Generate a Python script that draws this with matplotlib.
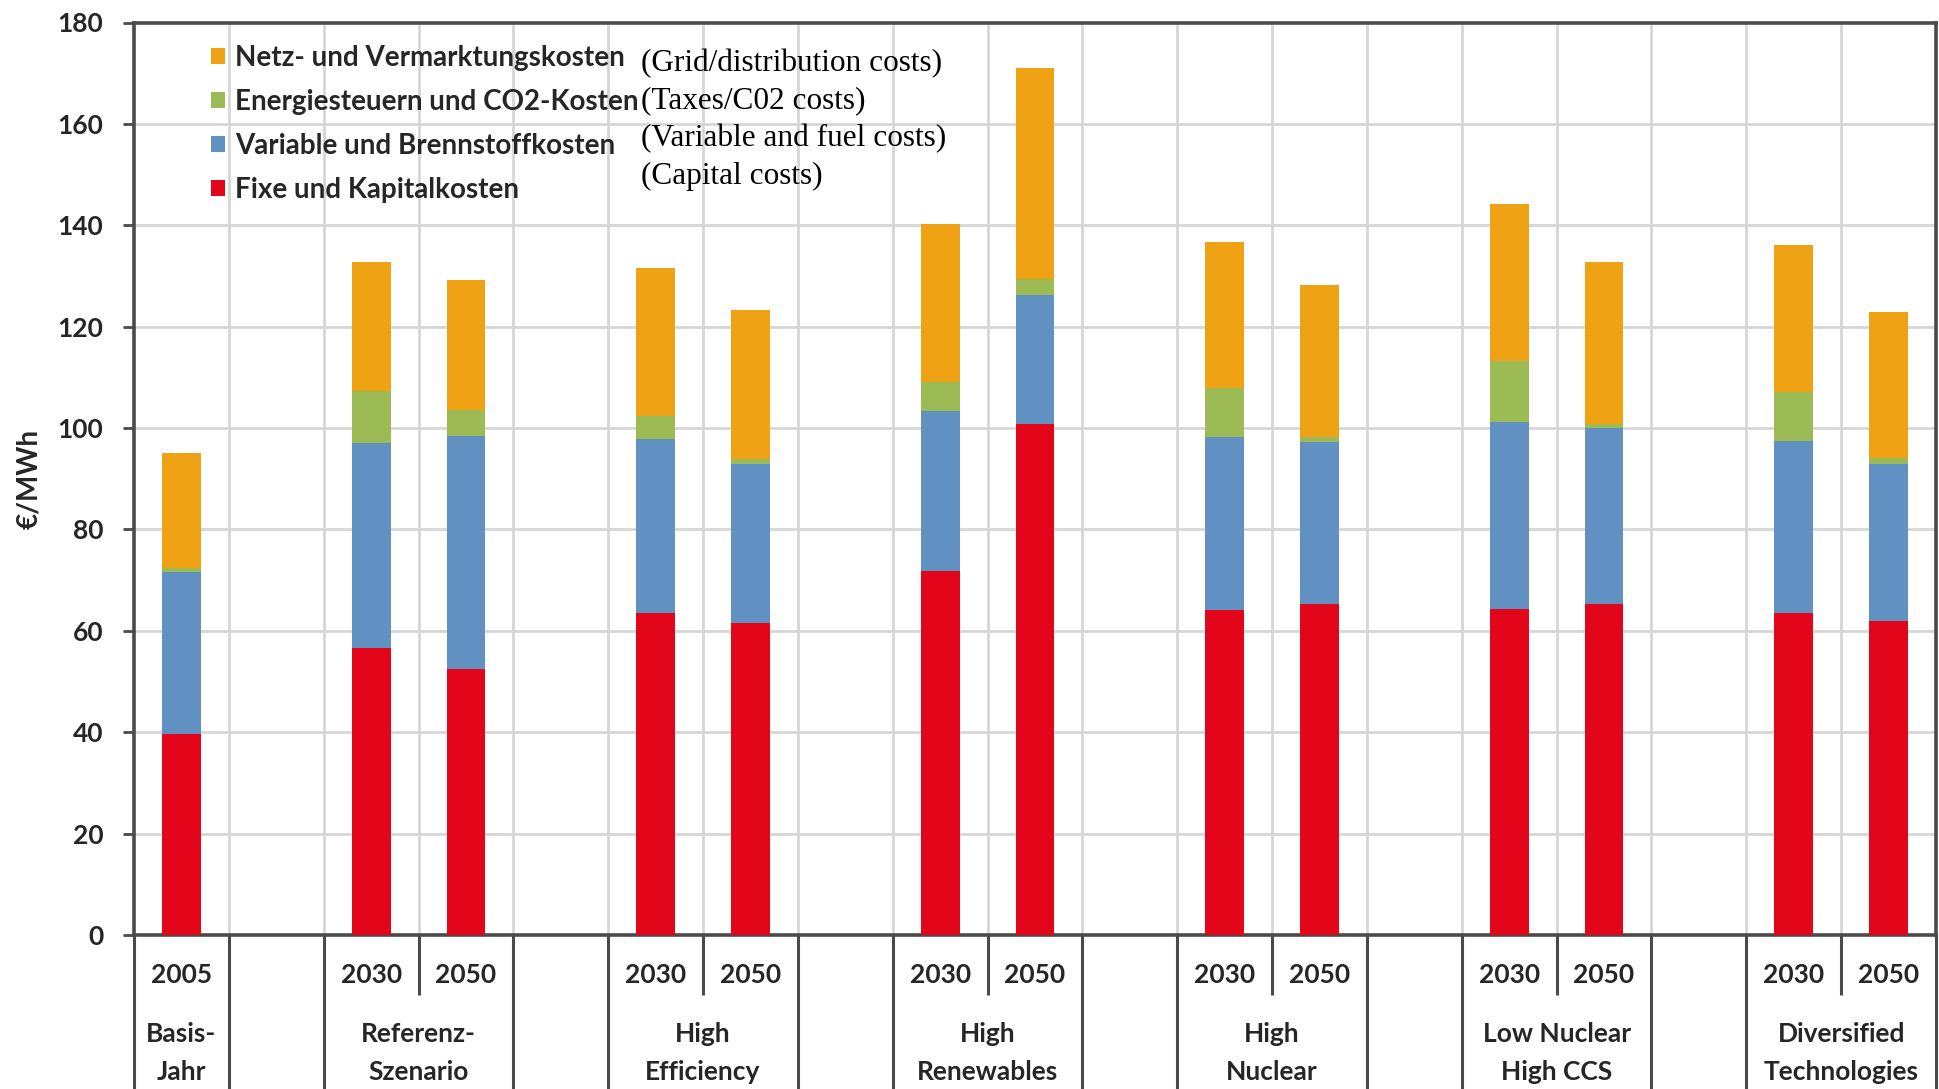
import matplotlib
matplotlib.use("Agg")
import matplotlib.pyplot as plt
from matplotlib.patches import Patch
from matplotlib.transforms import blended_transform_factory

# Scenario groups and their years
groups = ["Basis-\nJahr", "Referenz-\nSzenario", "High\nEfficiency", "High\nRenewables",
          "High\nNuclear", "Low Nuclear\nHigh CCS", "Diversified\nTechnologies"]
group_years = [["2005"], ["2030", "2050"], ["2030", "2050"], ["2030", "2050"],
               ["2030", "2050"], ["2030", "2050"], ["2030", "2050"]]

# Cost components in €/MWh, one value per bar (in order of the groups above)
fixe_kapital = [39.6, 56.6, 52.5, 63.5, 61.6, 71.8, 100.8, 64.1, 65.3, 64.4, 65.3, 63.5, 61.9]
variabel_brennstoff = [32.1, 40.4, 45.9, 34.4, 31.3, 31.6, 25.4, 34.2, 31.9, 36.7, 34.7, 34.0, 31.1]
steuern_co2 = [0.7, 10.3, 5.1, 4.5, 1.0, 5.6, 3.2, 9.6, 1.1, 12.2, 0.8, 9.6, 1.0]
netz_vermarktung = [22.7, 25.5, 25.7, 29.2, 29.4, 31.3, 41.6, 28.8, 29.9, 30.8, 32.0, 29.1, 28.9]

series_labels = ["Fixe und Kapitalkosten", "Variable und Brennstoffkosten",
                 "Energiesteuern und CO2-Kosten", "Netz- und Vermarktungskosten"]
series_notes = ["(Capital costs)", "(Variable and fuel costs)",
                "(Taxes/C02 costs)", "(Grid/distribution costs)"]
series_colors = ["#E3061B", "#6091C2", "#9DBB55", "#EFA314"]

y_ticks = [0, 20, 40, 60, 80, 100, 120, 140, 160, 180]

FONT = "Lato"
TXT = "#262626"

# Slot layout: each group occupies one slot per year, groups separated by one empty slot
positions = []
group_spans = []
slot = 0
for yrs in group_years:
    start = slot
    for _ in yrs:
        positions.append(slot)
        slot += 1
    group_spans.append((start, slot - 1))
    slot += 1
n_slots = slot - 1

fig = plt.figure(figsize=(19.39, 10.89), dpi=100)
ax = fig.add_axes([134 / 1939, 1 - 935 / 1089, (1936 - 134) / 1939, (935 - 22.5) / 1089])

values = [fixe_kapital, variabel_brennstoff, steuern_co2, netz_vermarktung]
bottom = [0.0] * len(positions)
for vals, col, lab in zip(values, series_colors, series_labels):
    ax.bar(positions, vals, width=0.41, bottom=bottom, color=col, label=lab,
           edgecolor="none", zorder=3)
    bottom = [b + v for b, v in zip(bottom, vals)]

ax.set_xlim(-0.5, n_slots - 0.5)
ax.set_ylim(0, 180)
ax.set_yticks(y_ticks)
ax.set_xticks([])

# grid: horizontal at every tick, vertical at every slot boundary
for yv in y_ticks[1:-1]:
    ax.axhline(yv, color="#D6D6D6", lw=2, zorder=1)
for k in range(1, n_slots):
    ax.axvline(k - 0.5, color="#D6D6D6", lw=2, zorder=1)

for side in ["left", "bottom", "top", "right"]:
    ax.spines[side].set_color("#4a4a4a")
    ax.spines[side].set_linewidth(2.6)

ax.tick_params(axis="y", direction="out", length=8, width=2, color="#4a4a4a",
               pad=14, labelsize=19, labelcolor=TXT)
for t in ax.get_yticklabels():
    t.set_fontfamily(FONT)
    t.set_fontweight("bold")

ax.set_ylabel("€/MWh", fontsize=20, fontweight="bold", fontfamily=FONT, color=TXT)
ax.yaxis.set_label_coords(-0.051, 0.5)

# category table beneath the axis
tr = blended_transform_factory(ax.transData, ax.transAxes)
px = 1.0 / (935 - 22.5)
long_end = -(1089 - 935) * px
short_end = -(995 - 935) * px

boundaries_long = {-0.5, n_slots - 0.5}
boundaries_short = set()
for (s, e) in group_spans:
    boundaries_long.add(s - 0.5)
    boundaries_long.add(e + 0.5)
    for k in range(s, e):
        boundaries_short.add(k + 0.5)
for b in boundaries_long:
    ax.plot([b, b], [0, long_end], transform=tr, color="#4a4a4a", lw=2.2,
            clip_on=False, solid_capstyle="butt")
for b in boundaries_short:
    ax.plot([b, b], [0, short_end], transform=tr, color="#4a4a4a", lw=2.2,
            clip_on=False, solid_capstyle="butt")

i = 0
for gname, yrs, (s, e) in zip(groups, group_years, group_spans):
    for yr in yrs:
        ax.text(positions[i], -(975 - 935) * px, yr, transform=tr, ha="center", va="center",
                fontsize=19, fontweight="bold", fontfamily=FONT, color=TXT)
        i += 1
    l1, l2 = gname.split("\n")
    xc = (s + e) / 2
    ax.text(xc, -(1034 - 935) * px, l1, transform=tr, ha="center", va="center",
            fontsize=19, fontweight="bold", fontfamily=FONT, color=TXT)
    ax.text(xc, -(1072 - 935) * px, l2, transform=tr, ha="center", va="center",
            fontsize=19, fontweight="bold", fontfamily=FONT, color=TXT)

# legend, stacked top component first
handles = [Patch(facecolor=c, edgecolor="none") for c in series_colors][::-1]
leg = ax.legend(handles, series_labels[::-1], loc="upper left",
                bbox_to_anchor=(211 / 1939, 1 - 45 / 1089), bbox_transform=fig.transFigure,
                frameon=False, handlelength=0.5, handleheight=0.5, handletextpad=0.36,
                labelspacing=0.65, borderaxespad=0, borderpad=0,
                prop={"family": FONT, "weight": "bold", "size": 20})
for t in leg.get_texts():
    t.set_color(TXT)

# English notes next to the legend entries
note_y = [176, 139, 101, 64]
for note, yp in zip(series_notes, note_y):
    fig.text(641 / 1939, 1 - yp / 1089, note, ha="left", va="center",
             fontsize=22.5, fontfamily="Liberation Serif", color="black")

fig.savefig("out.png", dpi=100)
